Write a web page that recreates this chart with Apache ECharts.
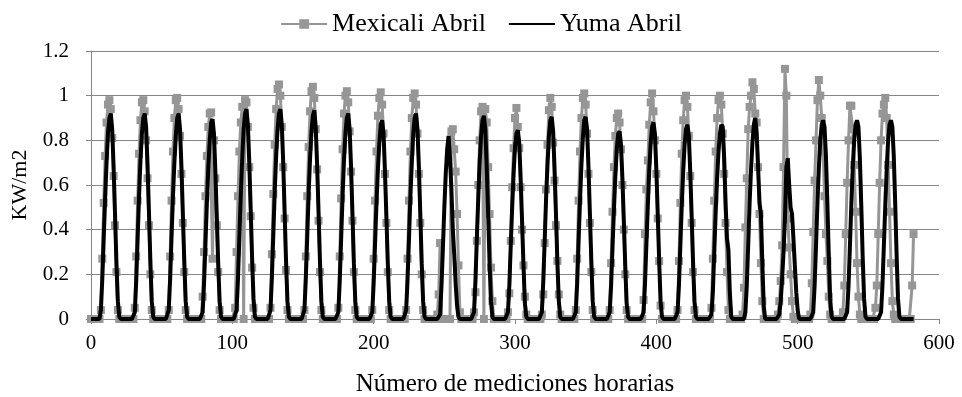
<!DOCTYPE html>
<html>
<head>
<meta charset="utf-8">
<script src="https://cdn.jsdelivr.net/npm/echarts@6/dist/echarts.min.js"></script>
<style>
  html, body { margin: 0; padding: 0; background: #ffffff; }
  #chart { width: 962px; height: 397px; }
</style>
</head>
<body>
<div id="chart"></div>
<script>
// Hourly irradiance (kW/m2), April, one line per day of 24 hourly readings
const mexicaliKW = [
  0,0,0,0,0,0,0,0.04,0.27,0.52,0.73,0.88,0.96,0.98,0.94,0.81,0.64,0.42,0.21,0.04,0,0,0,0,
  0,0,0,0,0,0,0,0.05,0.28,0.53,0.74,0.89,0.97,0.98,0.93,0.80,0.63,0.42,0.20,0.04,0,0,0,0,
  0,0,0,0,0,0,0,0.04,0.28,0.53,0.75,0.90,0.98,0.99,0.94,0.82,0.65,0.43,0.21,0.04,0,0,0,0,
  0,0,0,0,0,0,0,0.10,0.30,0.55,0.73,0.86,0.92,0.925,0.27,0.80,0.63,0.42,0.21,0.04,0,0,0,0,
  0,0,0,0,0,0,0.05,0.30,0.55,0.75,0.88,0.95,0,0.98,0.97,0.86,0.68,0.46,0.23,0.05,0,0,0,0,
  0,0,0,0,0,0,0,0.05,0.29,0.56,0.78,0.94,1.03,1.05,1.00,0.86,0.68,0.45,0.22,0.04,0,0,0,0,
  0,0,0,0,0,0,0,0.04,0.28,0.55,0.77,0.93,1.02,1.04,0.99,0.85,0.67,0.44,0.21,0.04,0,0,0,0,
  0,0,0,0,0,0,0,0.05,0.28,0.54,0.76,0.92,1.00,1.02,0.97,0.84,0.66,0.44,0.21,0.04,0,0,0,0,
  0,0,0,0,0,0,0,0.04,0.27,0.53,0.75,0.91,0.99,1.015,0.96,0.83,0.65,0.43,0.21,0.04,0,0,0,0,
  0,0,0,0,0,0,0,0.04,0.27,0.53,0.75,0.90,0.99,1.01,0.96,0.83,0.65,0.43,0.20,0.04,0,0,0,0,
  0,0,0,0,0,0.02,0.11,0.34,0,0,0,0,0,0,0,0.84,0.85,0.76,0.66,0.47,0.24,0.03,0,0,
  0,0,0,0,0,0,0,0.03,0.12,0.35,0.60,0.80,0.93,0.95,0,0.94,0.88,0.68,0.47,0.23,0.08,0,0,0,
  0,0,0,0,0,0,0,0.03,0.115,0.35,0.59,0.765,0.90,0.945,0.86,0.765,0.59,0.40,0.24,0.10,0.02,0,0,0,
  0,0,0,0,0,0,0,0.02,0.11,0.34,0.58,0.78,0.935,0.99,0.95,0.79,0.62,0.42,0.26,0.11,0.02,0,0,0,
  0,0,0,0,0,0,0,0.04,0.27,0.53,0.75,0.90,0.99,1.01,0.96,0.83,0.65,0.43,0.21,0.04,0,0,0,0,
  0,0,0,0,0,0,0,0.04,0.25,0.48,0.68,0.82,0.90,0.92,0.88,0.76,0.60,0.40,0.20,0.04,0,0,0,0,
  0,0,0,0,0,0,0,0.085,0.38,0.58,0.71,0.87,0.97,1.01,0.93,0.80,0.65,0.45,0.26,0.06,0,0,0,0,
  0,0,0,0,0,0,0,0.04,0.26,0.52,0.74,0.89,0.98,1.00,0.95,0.82,0.64,0.43,0.21,0.04,0,0,0,0,
  0,0,0,0,0,0,0,0.05,0.27,0.53,0.75,0.90,0.98,1.00,0.96,0.83,0.65,0.43,0.21,0.04,0,0,0,0,
  0,0,0,0,0,0.02,0.14,0.41,0.63,0.85,0.95,1.00,1.06,1.03,0.92,0.88,0.68,0.47,0.25,0.08,0,0,0,0,
  0,0,0,0,0,0,0.02,0.08,0.17,0.33,0.68,1.12,1.00,0.45,0.32,0.20,0.08,0.01,0,0,0,0,0,0,
  0,0,0,0,0,0.02,0.16,0.39,0.62,0.80,0.98,1.07,1.00,0.90,0.75,0.55,0.38,0.26,0.10,0.02,0,0,0,0,
  0,0,0,0,0.03,0.15,0.38,0.61,0.80,0.955,0.955,0.85,0.69,0.48,0.25,0.10,0.02,0,0,0,0,0,0,0,
  0,0,0,0.05,0.15,0.38,0.61,0.80,0.92,0.96,0.99,0.90,0.69,0.48,0.25,0.08,0.02,0,0,0,0,0,0,0,
  0,0,0,0,0,0.15,0.38
];

const yumaKW = [
  0,0,0,0,0,0,0,0.04,0.18,0.36,0.54,0.70,0.83,0.90,0.92,0.85,0.68,0.47,0.25,0.08,0.01,0,0,0,
  0,0,0,0,0,0,0,0.03,0.17,0.36,0.55,0.71,0.83,0.90,0.92,0.86,0.69,0.48,0.26,0.08,0.01,0,0,0,
  0,0,0,0,0,0,0,0.04,0.18,0.37,0.55,0.70,0.82,0.90,0.92,0.85,0.68,0.47,0.26,0.08,0.01,0,0,0,
  0,0,0,0,0,0,0,0.03,0.16,0.34,0.52,0.68,0.80,0.88,0.895,0.83,0.66,0.46,0.25,0.08,0.01,0,0,0,
  0,0,0,0,0,0,0,0.04,0.18,0.37,0.56,0.72,0.85,0.92,0.94,0.87,0.70,0.49,0.27,0.09,0.01,0,0,0,
  0,0,0,0,0,0,0,0.04,0.19,0.38,0.57,0.73,0.85,0.92,0.94,0.87,0.70,0.48,0.26,0.08,0.01,0,0,0,
  0,0,0,0,0,0,0,0.04,0.18,0.37,0.56,0.72,0.84,0.91,0.935,0.86,0.69,0.48,0.26,0.08,0.01,0,0,0,
  0,0,0,0,0,0,0,0.03,0.17,0.36,0.55,0.71,0.83,0.90,0.92,0.85,0.68,0.47,0.25,0.08,0.01,0,0,0,
  0,0,0,0,0,0,0,0.03,0.16,0.34,0.52,0.67,0.79,0.87,0.89,0.83,0.66,0.46,0.25,0.08,0.01,0,0,0,
  0,0,0,0,0,0,0,0.04,0.18,0.36,0.55,0.70,0.83,0.90,0.92,0.85,0.68,0.47,0.25,0.08,0.01,0,0,0,
  0,0,0,0,0,0,0,0.02,0.15,0.32,0.50,0.65,0.76,0.82,0.72,0.58,0.40,0.29,0.16,0.06,0.01,0,0,0,
  0,0,0,0,0,0,0,0.03,0.17,0.36,0.54,0.70,0.82,0.89,0.91,0.85,0.68,0.47,0.25,0.08,0.01,0,0,0,
  0,0,0,0,0,0,0,0.03,0.15,0.33,0.50,0.65,0.77,0.83,0.845,0.79,0.63,0.44,0.24,0.07,0.01,0,0,0,
  0,0,0,0,0,0,0,0.03,0.17,0.35,0.54,0.69,0.82,0.89,0.905,0.84,0.67,0.47,0.25,0.08,0.01,0,0,0,
  0,0,0,0,0,0,0,0.03,0.16,0.35,0.53,0.69,0.81,0.89,0.905,0.85,0.68,0.47,0.26,0.08,0.01,0,0,0,
  0,0,0,0,0,0,0,0.03,0.15,0.32,0.49,0.64,0.76,0.83,0.84,0.78,0.63,0.44,0.24,0.07,0.01,0,0,0,
  0,0,0,0,0,0,0,0.03,0.16,0.34,0.51,0.67,0.79,0.86,0.88,0.83,0.67,0.47,0.26,0.08,0.01,0,0,0,
  0,0,0,0,0,0,0,0.03,0.15,0.33,0.51,0.66,0.78,0.85,0.87,0.82,0.66,0.46,0.25,0.08,0.01,0,0,0,
  0,0,0,0,0,0,0,0.02,0.12,0.30,0.48,0.63,0.75,0.83,0.87,0.86,0.72,0.52,0.36,0.31,0.12,0.01,0,0,
  0,0,0,0,0,0,0,0.03,0.15,0.33,0.52,0.67,0.79,0.87,0.90,0.83,0.68,0.52,0.47,0.25,0.06,0,0,0,
  0,0,0,0,0,0,0,0.02,0.08,0.18,0.30,0.45,0.68,0.72,0.60,0.50,0.47,0.36,0.24,0.12,0.04,0,0,0,
  0,0,0,0,0,0,0,0.03,0.15,0.33,0.52,0.68,0.80,0.87,0.89,0.86,0.73,0.52,0.29,0.09,0.01,0,0,0,
  0,0,0,0,0,0,0,0.03,0.15,0.33,0.52,0.68,0.80,0.87,0.89,0.86,0.72,0.51,0.28,0.09,0.01,0,0,0,
  0,0,0,0,0,0,0,0.03,0.15,0.33,0.51,0.67,0.80,0.87,0.89,0.86,0.73,0.52,0.29,0.09,0.01,0,0,0,
  0,0,0,0,0,0,0
];

const seriesNames = ['Mexicali Abril', 'Yuma Abril'];
const xTicks = { min: 0, max: 600, step: 100 };
const yTicks = { min: 0, max: 1.2, step: 0.2 };

const toPoints = arr => arr.map((v, i) => [i, v]);

const FONT = '"Liberation Serif", "Times New Roman", serif';
const GRAY = '#969696';
const AXIS_GRAY = '#868686';

const chart = echarts.init(document.getElementById('chart'), null, { renderer: 'canvas' });
chart.setOption({
  animation: false,
  backgroundColor: '#ffffff',
  textStyle: { fontFamily: FONT, color: '#000' },
  legend: {
    top: 6,
    left: 'center',
    itemWidth: 46,
    itemHeight: 12,
    itemGap: 22,
    textStyle: { fontFamily: FONT, fontSize: 26, color: '#000' },
    data: [
      { name: seriesNames[0] },
      { name: seriesNames[1], itemStyle: { opacity: 0 } }
    ]
  },
  grid: { left: 91, right: 23, top: 51, bottom: 78, outerBoundsMode: 'none', containLabel: false },
  xAxis: {
    type: 'value',
    min: xTicks.min,
    max: xTicks.max,
    interval: xTicks.step,
    name: 'Número de mediciones horarias',
    nameLocation: 'middle',
    nameGap: 53,
    nameTextStyle: { fontFamily: FONT, fontSize: 25, color: '#000' },
    axisLine: { show: true, lineStyle: { color: AXIS_GRAY, width: 1 } },
    axisTick: { show: true, length: 5, lineStyle: { color: AXIS_GRAY } },
    axisLabel: { fontFamily: FONT, fontSize: 21, color: '#000', margin: 14 },
    splitLine: { show: false }
  },
  yAxis: {
    type: 'value',
    min: yTicks.min,
    max: yTicks.max,
    interval: yTicks.step,
    name: 'KW/m2',
    nameLocation: 'middle',
    nameRotate: 90,
    nameGap: 60,
    nameTextStyle: { fontFamily: FONT, fontSize: 22, color: '#000' },
    axisLine: { show: true, lineStyle: { color: AXIS_GRAY, width: 1 } },
    axisTick: { show: true, length: 5, lineStyle: { color: AXIS_GRAY } },
    axisLabel: { fontFamily: FONT, fontSize: 21, color: '#000', margin: 22 },
    splitLine: { show: true, lineStyle: { color: AXIS_GRAY, width: 1 } }
  },
  series: [
    {
      name: seriesNames[0],
      type: 'line',
      data: toPoints(mexicaliKW),
      symbol: 'rect',
      symbolSize: 8,
      showAllSymbol: true,
      itemStyle: { color: GRAY },
      lineStyle: { color: GRAY, width: 3 },
      z: 2
    },
    {
      name: seriesNames[1],
      type: 'line',
      data: toPoints(yumaKW),
      showSymbol: false,
      symbol: 'none',
      itemStyle: { color: '#000' },
      lineStyle: { color: '#000', width: 4 },
      z: 3
    }
  ]
});
</script>
</body>
</html>
